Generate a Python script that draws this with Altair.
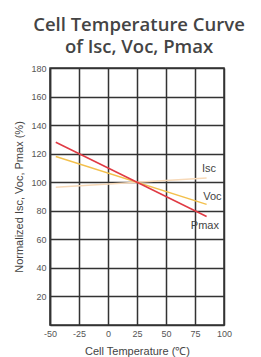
import altair as alt
import pandas as pd

temps = [-45, 85]
isc = [96.5, 103]
voc = [118, 84.5]
pmax = [128, 76]
series = ["Isc", "Voc", "Pmax"]
colors = ["#f7d9b8", "#f3c04c", "#e03a44"]

label_x = [87, 90, 83.5]
label_y = [109, 90, 69.5]

x_ticks = [-50, -25, 0, 25, 50, 75, 100]
y_ticks = [20, 40, 60, 80, 100, 120, 140, 160, 180]

rows = []
for name, vals in zip(series, [isc, voc, pmax]):
    for t, v in zip(temps, vals):
        rows.append({"temp": t, "val": v, "series": name})
df = pd.DataFrame(rows)
lab = pd.DataFrame({"temp": label_x, "val": label_y, "series": series})

xs = alt.Scale(domain=[-50, 100], nice=False)
ys = alt.Scale(domain=[0, 180], nice=False)

common = dict(labelFontSize=9, titleFontSize=11, labelColor="#555", titleColor="#444",
              titleFontWeight="normal", titleFont="Liberation Sans", labelFont="Liberation Sans",
              domainColor="#333", domainWidth=1.5, tickSize=0, labelOverlap=False, labelFlush=False,
              gridColor="#333", gridWidth=1.5, gridOpacity=1, labelExpr="'' + datum.value")

x_axis = alt.Axis(values=x_ticks, title="Cell Temperature (℃)",
                  labelPadding=4, titlePadding=7, **common)
y_axis = alt.Axis(values=y_ticks, title="Normalized Isc, Voc, Pmax (%)",
                  labelPadding=4, titlePadding=6, **common)

lines = alt.Chart(df).mark_line(strokeWidth=1.5).encode(
    x=alt.X("temp:Q", scale=xs, axis=x_axis),
    y=alt.Y("val:Q", scale=ys, axis=y_axis),
    color=alt.Color("series:N", scale=alt.Scale(domain=series, range=colors), legend=None),
    detail="series:N",
)

texts = alt.Chart(lab).mark_text(fontSize=11, color="#444", font="Liberation Sans").encode(
    x=alt.X("temp:Q", scale=xs, axis=x_axis),
    y=alt.Y("val:Q", scale=ys, axis=y_axis),
    text="series:N",
)

chart = (lines + texts).properties(
    width=174, height=257,
    autosize=alt.AutoSizeParams(type="none"),
    padding={"left": 42, "top": 60, "right": 29, "bottom": 36},
    title=alt.TitleParams(["Cell Temperature Curve", "of Isc, Voc, Pmax"], fontSize=18.5,
                          font="Open Sans", fontWeight=600, color="#444", anchor="middle",
                          offset=8, lineHeight=22, dx=2),
).configure_view(stroke="#333", strokeWidth=1.5)

chart.save("out.html", embed_options={"renderer": "svg", "actions": False})
